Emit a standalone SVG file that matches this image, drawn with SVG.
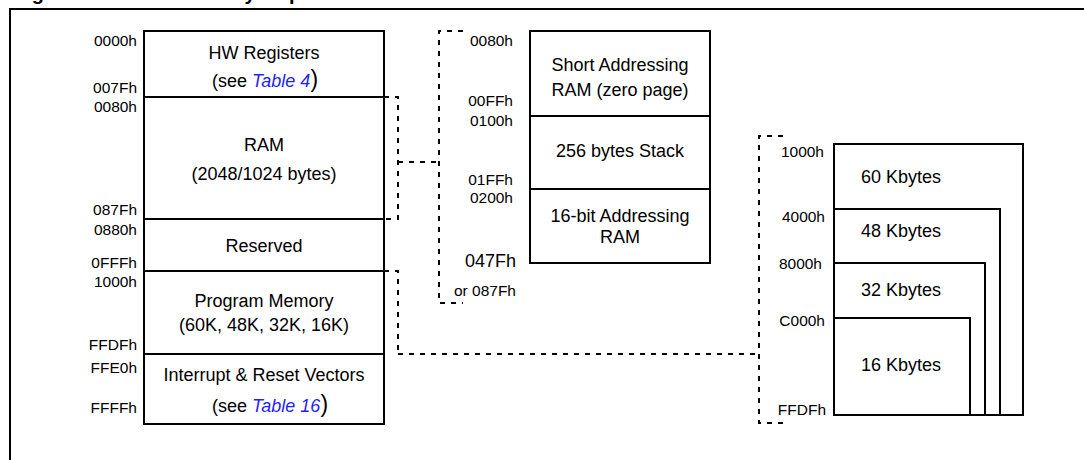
<svg xmlns="http://www.w3.org/2000/svg" width="1084" height="460" viewBox="0 0 1084 460">
<style>
.box{fill:none;stroke:#000;stroke-width:2}
.dash{fill:none;stroke:#000;stroke-width:2;stroke-dasharray:5 6}
text{font-family:"Liberation Sans",Arial,sans-serif;fill:#000}
.lbl{font-size:18px;text-anchor:middle}
.left{font-size:18px;text-anchor:start}
.addr{font-size:15.5px;text-anchor:end}
.link{fill:#1f1fff;font-style:italic}
.big{font-size:23px}
.title{font-size:20px;font-weight:bold}
</style>
<rect width="1084" height="460" fill="#fff"/>
<g id="frame">
<path d="M10,460 V9 H1084" fill="none" stroke="#000" stroke-width="2"/>
<text class="title" x="14" y="0">Figure 6.<tspan x="179">Memory Map</tspan></text>
</g>
<g id="left-map">
<rect class="box" x="144" y="31" width="240" height="393"/>
<path class="box" d="M144,97 H384 M144,219 H384 M144,271 H384 M144,354 H384"/>
<g id="hw-registers">
<text class="lbl" x="264" y="59">HW Registers</text>
<text class="lbl" x="265" y="87">(see <tspan class="link">Table 4</tspan><tspan class="big">)</tspan></text>
</g>
<g id="ram">
<text class="lbl" x="264" y="151">RAM</text>
<text class="lbl" x="264" y="180">(2048/1024 bytes)</text>
</g>
<g id="reserved"><text class="lbl" x="264" y="252">Reserved</text></g>
<g id="program-memory">
<text class="lbl" x="264" y="307">Program Memory</text>
<text class="lbl" x="264" y="331">(60K, 48K, 32K, 16K)</text>
</g>
<g id="vectors">
<text class="lbl" x="264" y="381">Interrupt &amp; Reset Vectors</text>
<text class="lbl" x="270" y="412">(see <tspan class="link">Table 16</tspan><tspan class="big">)</tspan></text>
</g>
<g id="left-addr">
<text class="addr" x="137" y="46">0000h</text>
<text class="addr" x="137" y="93">007Fh</text>
<text class="addr" x="137" y="112">0080h</text>
<text class="addr" x="137" y="215">087Fh</text>
<text class="addr" x="137" y="235">0880h</text>
<text class="addr" x="137" y="268">0FFFh</text>
<text class="addr" x="137" y="287">1000h</text>
<text class="addr" x="137" y="350">FFDFh</text>
<text class="addr" x="137" y="373">FFE0h</text>
<text class="addr" x="137" y="413">FFFFh</text>
</g>
</g>
<g id="ram-map">
<rect class="box" x="530" y="31" width="180" height="232"/>
<path class="box" d="M530,116 H710 M530,189 H710"/>
<g id="zero-page">
<text class="lbl" x="620" y="71">Short Addressing</text>
<text class="lbl" x="620" y="96">RAM (zero page)</text>
</g>
<g id="stack"><text class="lbl" x="620" y="157">256 bytes Stack</text></g>
<g id="ram16">
<text class="lbl" x="620" y="222">16-bit Addressing</text>
<text class="lbl" x="620" y="243">RAM</text>
</g>
<g id="mid-addr">
<text class="addr" x="513" y="46">0080h</text>
<text class="addr" x="513" y="106">00FFh</text>
<text class="addr" x="513" y="126">0100h</text>
<text class="addr" x="513" y="185">01FFh</text>
<text class="addr" x="513" y="203">0200h</text>
<text class="addr" x="516" y="267" style="font-size:18px">047Fh</text>
<text class="addr" x="516" y="296">or 087Fh</text>
</g>
</g>
<g id="flash-map">
<g id="k60"><rect class="box" x="834" y="144" width="189" height="271"/><text class="left" x="861" y="183">60 Kbytes</text></g>
<g id="k48"><path class="box" d="M834,209 H1000 V415"/><text class="left" x="861" y="237">48 Kbytes</text></g>
<g id="k32"><path class="box" d="M834,263 H985 V415"/><text class="left" x="861" y="296">32 Kbytes</text></g>
<g id="k16"><path class="box" d="M834,318 H970 V415"/><text class="left" x="861" y="371">16 Kbytes</text></g>
<g id="right-addr">
<text class="addr" x="824" y="157">1000h</text>
<text class="addr" x="825" y="222">4000h</text>
<text class="addr" x="822" y="269">8000h</text>
<text class="addr" x="825" y="326">C000h</text>
<text class="addr" x="826" y="415">FFDFh</text>
</g>
</g>
<g id="connectors">
<path class="dash" d="M384,97 H398 V219 H384"/>
<path class="dash" d="M398,162 H439"/>
<path class="dash" d="M463,31 H439 V303 H463"/>
<path class="dash" d="M384,271 H398 V354"/>
<path class="dash" d="M398,354 H760"/>
<path class="dash" d="M783,136 H759 V423 H783"/>
</g>
</svg>
